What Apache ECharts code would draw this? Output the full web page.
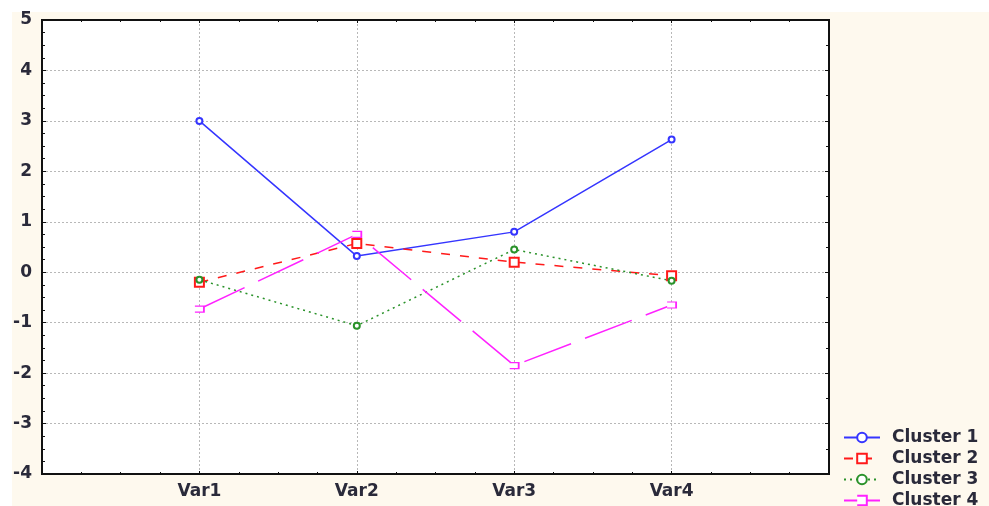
<!DOCTYPE html>
<html><head><meta charset="utf-8">
<script src="https://cdn.jsdelivr.net/npm/echarts@6/dist/echarts.min.js"></script>
<style>
html,body{margin:0;padding:0;background:#fff;}
#bg{position:absolute;left:12px;top:12px;width:977px;height:494px;background:#fef9ee;}
#c{position:absolute;left:0;top:0;width:989px;height:506px;}
</style></head>
<body><div id="bg"></div><div id="c"></div>
<script>
const categories = ['Var1', 'Var2', 'Var3', 'Var4'];
const seriesNames = ['Cluster 1', 'Cluster 2', 'Cluster 3', 'Cluster 4'];
const cluster1 = [3.0, 0.32, 0.80, 2.63];
const cluster2 = [-0.20, 0.57, 0.20, -0.07];
const cluster3 = [-0.15, -1.06, 0.45, -0.17];
const cluster4 = [-0.73, 0.75, -1.85, -0.65];
const yTicks = [-4, -3, -2, -1, 0, 1, 2, 3, 4, 5];

const values = [cluster1, cluster2, cluster3, cluster4];
const styles = [
  {color: '#3535ff', type: 'solid', symbol: 'emptyCircle', size: 6, fill: null},
  {color: '#ff1a1a', type: [9, 10], symbol: 'emptyRect', size: 9, fill: null},
  {color: '#2a922a', type: [2, 4], symbol: 'emptyCircle', size: 6, fill: null},
  {color: '#ff22ff', type: [50, 15], symbol: 'path://M0,0L10,0L10,6L0,6', size: [9, 6], fill: '#fff'}
];
const font = 'DejaVu Sans';
const txt = '#2a2a3a';

const series = values.map((vals, i) => ({
  name: seriesNames[i],
  type: 'line',
  xAxisIndex: 0, yAxisIndex: 0,
  data: vals.map((v, j) => [j + 1, v]),
  symbol: styles[i].symbol,
  symbolSize: styles[i].size,
  showSymbol: true,
  lineStyle: {color: styles[i].color, width: 1.5, type: styles[i].type},
  itemStyle: styles[i].fill
    ? {color: styles[i].fill, borderColor: styles[i].color, borderWidth: 1.5}
    : {color: styles[i].color, borderWidth: 1.5},
  emphasis: {disabled: true},
  animation: false
}));

const legendText = {fontFamily: font, fontSize: 17, fontWeight: 'bold', color: txt, lineHeight: 19, padding: [0, 0, 0, 7]};
const axisText = {fontFamily: font, fontSize: 17, fontWeight: 'bold', color: txt};

const chart = echarts.init(document.getElementById('c'), null, {renderer: 'canvas'});
chart.setOption({
  animation: false,
  grid: {left: 42, top: 20, right: 160, bottom: 32, show: true, backgroundColor: '#ffffff', borderColor: '#111', borderWidth: 2},
  legend: [{
    orient: 'vertical', left: 843, top: 428, padding: 0,
    itemWidth: 36, itemHeight: 12, itemGap: 2,
    textStyle: legendText,
    data: seriesNames.slice(0, 3)
  }, {
    orient: 'vertical', left: 843, top: 491, padding: 0,
    itemWidth: 36, itemHeight: 12, itemGap: 2,
    textStyle: legendText,
    data: seriesNames.slice(3)
  }],
  xAxis: [{
    type: 'value', min: 0, max: 5, interval: 1,
    axisLine: {show: true, onZero: false, lineStyle: {color: '#111', width: 2}},
    axisTick: {show: true, inside: true, length: 3, lineStyle: {color: '#111'}},
    minorTick: {show: true, splitNumber: 4, length: 2, lineStyle: {color: '#111'}},
    axisLabel: Object.assign({margin: 9, formatter: v => categories[v - 1] || ''}, axisText),
    splitLine: {show: true, lineStyle: {color: '#b8b8b8', type: [2, 2], width: 1}}
  }, {
    type: 'value', min: 0, max: 5, interval: 1, position: 'top',
    axisLine: {show: true, onZero: false, lineStyle: {color: '#111', width: 2}},
    axisTick: {show: true, inside: true, length: 3, lineStyle: {color: '#111'}},
    minorTick: {show: true, splitNumber: 4, length: 2, lineStyle: {color: '#111'}},
    axisLabel: {show: false}, splitLine: {show: false}
  }],
  yAxis: [{
    type: 'value', min: yTicks[0], max: yTicks[yTicks.length - 1], interval: 1,
    axisLine: {show: true, onZero: false, lineStyle: {color: '#111', width: 2}},
    axisTick: {show: true, inside: true, length: 4, lineStyle: {color: '#111'}},
    minorTick: {show: true, splitNumber: 4, length: 3, lineStyle: {color: '#111'}},
    axisLabel: Object.assign({margin: 10}, axisText),
    splitLine: {show: true, lineStyle: {color: '#b8b8b8', type: [2, 2], width: 1}}
  }, {
    type: 'value', min: yTicks[0], max: yTicks[yTicks.length - 1], interval: 1, position: 'right',
    axisLine: {show: true, onZero: false, lineStyle: {color: '#111', width: 2}},
    axisTick: {show: true, inside: true, length: 4, lineStyle: {color: '#111'}},
    minorTick: {show: true, splitNumber: 2, length: 3, lineStyle: {color: '#111'}},
    axisLabel: {show: false}, splitLine: {show: false}
  }],
  series: series
});
</script></body></html>
